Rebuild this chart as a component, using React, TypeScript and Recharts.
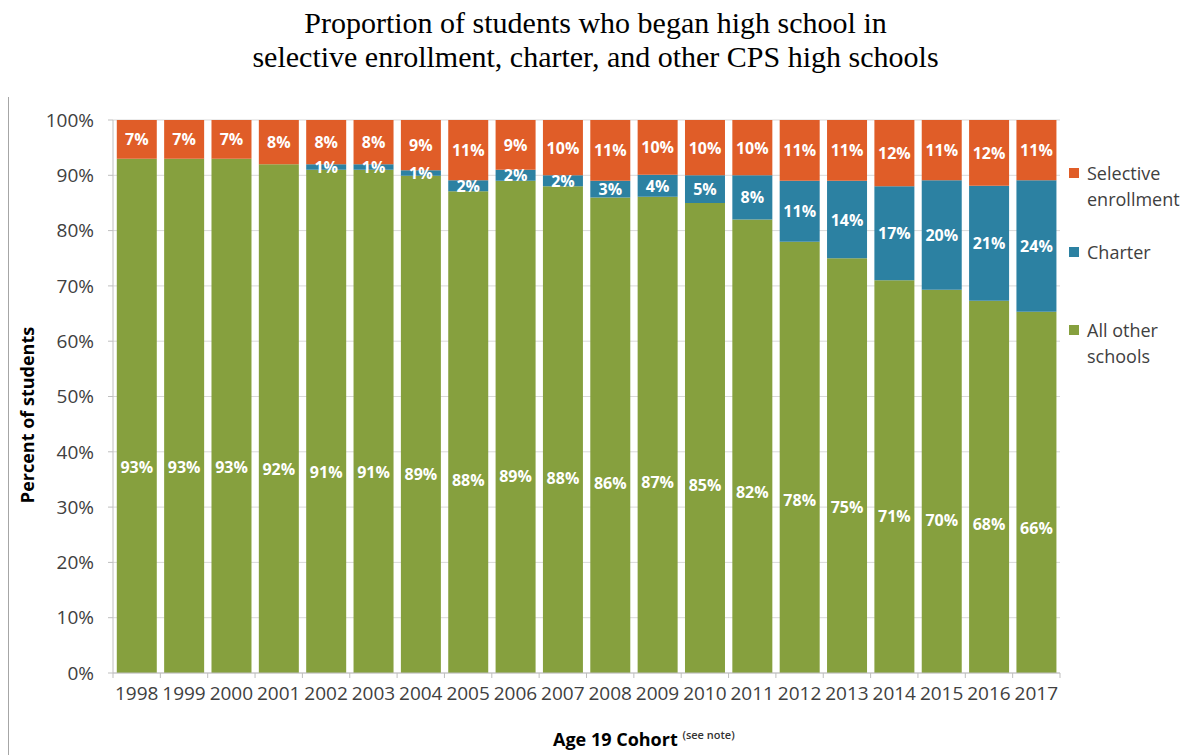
import React from 'react';
import { BarChart, Bar, XAxis, YAxis, CartesianGrid, LabelList } from 'recharts';

const years = ['1998', '1999', '2000', '2001', '2002', '2003', '2004', '2005', '2006', '2007',
    '2008', '2009', '2010', '2011', '2012', '2013', '2014', '2015', '2016', '2017'];
const otherSchools = [93, 93, 93, 92, 91, 91, 89, 88, 89, 88, 86, 87, 85, 82, 78, 75, 71, 70, 68, 66];
const charter = [0, 0, 0, 0, 1, 1, 1, 2, 2, 2, 3, 4, 5, 8, 11, 14, 17, 20, 21, 24];
const selective = [7, 7, 7, 8, 8, 8, 9, 11, 9, 10, 11, 10, 10, 10, 11, 11, 12, 11, 12, 11];
const yTicks = [0, 0.1, 0.2, 0.3, 0.4, 0.5, 0.6, 0.7, 0.8, 0.9, 1];

const data = years.map((year, i) => ({
    year,
    other: otherSchools[i],
    charter: charter[i],
    selective: selective[i],
}));

const GREEN = '#86A03E';
const BLUE = '#2C81A2';
const ORANGE = '#E05D28';
const FONT = '"Open Sans", sans-serif';

// plot box (px)
const W = 1191;
const H = 755;
const PLOT_L = 113;
const PLOT_R = 1060;
const PLOT_T = 120;
const PLOT_B = 673;
const HALF_BAND = (PLOT_R - PLOT_L) / years.length / 2;

// label value is the year, so zero-height bars don't shift the lookup
const makeLabel = (values: number[], pos: number) => (props: any) => {
    const { x, y, width, height, value } = props;
    const v = values[years.indexOf(String(value))];
    if (!v) return null;
    return (
        <text
            x={Number(x) + Number(width) / 2}
            y={Number(y) + Number(height) * pos}
            textAnchor="middle"
            dominantBaseline="central"
            fill="#fff"
            fontSize={16}
            fontWeight={700}
            fontFamily={FONT}
        >
            {v}%
        </text>
    );
};

const XTick = (props: any) => {
    const { x, payload, index } = props;
    return (
        <g>
            <line x1={x - HALF_BAND} x2={x - HALF_BAND} y1={PLOT_B} y2={PLOT_B + 5} stroke="#BFBFBF" />
            {index === years.length - 1 && (
                <line x1={x + HALF_BAND} x2={x + HALF_BAND} y1={PLOT_B} y2={PLOT_B + 5} stroke="#BFBFBF" />
            )}
            <text x={x} y={PLOT_B + 27} textAnchor="middle" fontSize={19} fill="#404040" fontFamily={FONT}>
                {payload.value}
            </text>
        </g>
    );
};

const legendItems = [
    { lines: ['Selective', 'enrollment'], color: ORANGE, top: 160 },
    { lines: ['Charter'], color: BLUE, top: 239 },
    { lines: ['All other', 'schools'], color: GREEN, top: 317 },
];

export default function App() {
    return (
        <div style={{ position: 'absolute', left: 0, top: 0, width: W, height: H, background: '#fff', fontFamily: FONT }}>
            <div
                style={{
                    position: 'absolute', top: 6, left: 0, width: W, textAlign: 'center',
                    fontFamily: '"Liberation Serif", "Times New Roman", serif', fontSize: 30, lineHeight: '34px', color: '#000',
                }}
            >
                <div>Proportion of students who began high school in</div>
                <div>selective enrollment, charter, and other CPS high schools</div>
            </div>
            <div style={{ position: 'absolute', left: 8, top: 97, width: 1, height: H - 97, background: '#A6A6A6' }} />

            <BarChart
                width={W}
                height={H}
                data={data}
                stackOffset="expand"
                barCategoryGap="8%"
                margin={{ top: PLOT_T, right: W - PLOT_R, bottom: H - PLOT_B - 40, left: PLOT_L - 60 }}
                style={{ position: 'absolute', left: 0, top: 0 }}
            >
                <CartesianGrid vertical={false} stroke="#D9D9D9" />
                <XAxis
                    dataKey="year"
                    height={40}
                    interval={0}
                    axisLine={{ stroke: '#BFBFBF' }}
                    tickLine={false}
                    tick={<XTick />}
                />
                <YAxis
                    width={60}
                    domain={[0, 1]}
                    ticks={yTicks}
                    tickFormatter={(v: number) => `${Math.round(v * 100)}%`}
                    axisLine={{ stroke: '#BFBFBF' }}
                    tickLine={{ stroke: '#BFBFBF' }}
                    tickSize={5}
                    tickMargin={14}
                    tick={{ fontSize: 19, fill: '#404040', fontFamily: FONT }}
                />
                <Bar dataKey="other" stackId="s" fill={GREEN} isAnimationActive={false}>
                    <LabelList dataKey="year" content={makeLabel(otherSchools, 0.6)} />
                </Bar>
                <Bar dataKey="charter" stackId="s" fill={BLUE} isAnimationActive={false}>
                    <LabelList dataKey="year" content={makeLabel(charter, 0.5)} />
                </Bar>
                <Bar dataKey="selective" stackId="s" fill={ORANGE} isAnimationActive={false}>
                    <LabelList dataKey="year" content={makeLabel(selective, 0.5)} />
                </Bar>
            </BarChart>

            <div
                style={{
                    position: 'absolute', left: 27, top: 415, transform: 'translate(-50%, -50%) rotate(-90deg)',
                    whiteSpace: 'nowrap', fontSize: 18, fontWeight: 700, color: '#000',
                }}
            >
                Percent of students
            </div>
            <div style={{ position: 'absolute', left: 553, top: 727, whiteSpace: 'nowrap', fontSize: 18, fontWeight: 700, color: '#000', lineHeight: '24px' }}>
                Age 19 Cohort{' '}
                <span style={{ fontSize: 11, fontWeight: 600, position: 'relative', top: -7, color: '#333' }}>(see note)</span>
            </div>

            {legendItems.map((item) => (
                <div key={item.lines[0]} style={{ position: 'absolute', left: 1069, top: item.top, display: 'flex', alignItems: 'flex-start' }}>
                    <div style={{ width: 10, height: 10, background: item.color, marginTop: 8, marginRight: 8 }} />
                    <div style={{ fontSize: 18, lineHeight: '26px', color: '#404040' }}>
                        {item.lines.map((l) => (
                            <div key={l}>{l}</div>
                        ))}
                    </div>
                </div>
            ))}
        </div>
    );
}
